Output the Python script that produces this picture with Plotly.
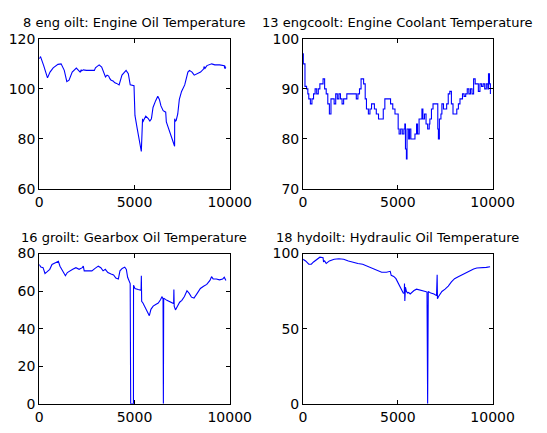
import plotly.graph_objects as go

# ---- data ----
oil_x = [0, 67, 233, 433, 566, 732, 982, 1148, 1314, 1448, 1564, 1730, 1947, 2063, 2146, 2200, 2230, 2313,
         2479, 2895, 2950, 3028, 3145, 3278, 3478, 3560, 3644, 3700, 3760, 3894, 3950, 4060, 4193, 4343,
         4559, 4676, 4776, 4975, 5025, 5141, 5275, 5358, 5424, 5440, 5474, 5591, 5724, 5807, 5890, 5973,
         6106, 6223, 6306, 6389, 6506, 6639, 6672, 6805, 6938, 7055, 7105, 7110, 7140, 7188, 7271, 7354,
         7471, 7637, 7804, 7887, 8020, 8136, 8303, 8469, 8636, 8650, 8700, 8802, 9052, 9218, 9468, 9717,
         9730, 9750, 9767, 9790]
oil_y = [112, 112.9, 109.3, 104.4, 106.7, 108.4, 109.8, 110, 107.4, 102.9, 103.5, 106.7, 108.3, 107.4, 106.7,
         107.5, 107.2, 107.6, 107.4, 107.4, 108.4, 108.9, 109.6, 108.7, 104.8, 105.5, 105.1, 104.2, 103.5,
         103.1, 102.5, 102.2, 101.6, 105.5, 107.4, 106.1, 101.6, 101.3, 89.4, 84.2, 78.4, 75, 88.1, 86.8,
         87.4, 89.1, 88.1, 87.2, 88.1, 92.6, 95.2, 97.1, 95.8, 93.2, 91.3, 90.7, 86.8, 83.6, 81, 77.8,
         77.1, 88.1, 87.0, 87.4, 90, 95.8, 99, 101.6, 106.7, 107.4, 106.7, 105.5, 106.1, 106.7, 108,
         108.9, 108.2, 109.3, 110, 109.6, 109.6, 109.3, 108.2, 109.2, 108.1, 108.7]

cool_x = [0, 17, 84, 100, 184, 251, 301, 385, 468, 552, 635, 719, 803, 886, 970, 1054, 1137, 1221, 1304, 1388,
          1472, 1555, 1639, 1722, 1806, 1890, 1973, 2057, 2140, 2224, 2308, 2391, 2475, 2726, 2809, 2893,
          2977, 3060, 3144, 3194, 3278, 3344, 3445, 3528, 3612, 3696, 3763, 3863, 3980, 4147, 4231, 4314,
          4398, 4515, 4615, 4732, 4849, 4950, 5017, 5067, 5150, 5234, 5318, 5368, 5401, 5452, 5485, 5569,
          5619, 5686, 5819, 5903, 5987, 6037, 6120, 6187, 6271, 6321, 6405, 6488, 6572, 6656, 6689, 6773,
          6856, 6990, 7074, 7107, 7140, 7191, 7274, 7324, 7408, 7492, 7575, 7659, 7742, 7826, 7910, 8027,
          8110, 8194, 8278, 8328, 8411, 8495, 8579, 8662, 8746, 8829, 8913, 8997, 9080, 9164, 9247, 9331,
          9415, 9498, 9582, 9666, 9749, 9783, 9833, 9883]
cool_y = [97, 95, 95, 90.5, 90, 89, 88, 87, 88, 89, 90, 89, 90, 91, 91, 92, 90, 89, 87, 85,
          88, 88, 87, 89, 88, 89, 88, 87, 88, 88, 89, 89, 89, 89, 88, 89,
          90, 92, 92, 91, 88, 86, 85, 86, 87, 87, 86, 85, 84, 84, 86, 88,
          88, 88, 87, 86, 85, 85, 82, 81, 82, 81, 82, 83, 78, 76, 82, 80,
          82, 80, 80, 81, 83, 81, 84, 84, 86, 84, 85, 83, 82, 83, 84, 86,
          87, 87, 87, 82, 80, 84, 85, 87, 86, 86, 87, 89, 89.5, 87, 85, 85,
          86, 87, 88, 88, 89, 88.5, 89, 90, 89, 90, 89, 92, 91, 91, 89.5, 91,
          90.5, 91, 90, 91, 90, 93, 91, 89]

gear_x = [0, 84, 201, 302, 419, 553, 670, 838, 1005, 1089, 1256, 1374, 1474, 1591, 1759, 1926, 2094, 2261,
          2312, 2362, 2513, 2764, 2931, 3099, 3233, 3350, 3467, 3601, 3769, 3903, 4020, 4154, 4238, 4355,
          4489, 4573, 4640, 4724, 4774, 4800, 4945, 4950, 5025, 5193, 5327, 5345, 5360, 5377, 5444, 5528,
          5611, 5695, 5779, 5863, 5980, 6114, 6248, 6365, 6449, 6499, 6516, 6533, 6700, 6868, 7035, 7055,
          7068, 7085, 7152, 7253, 7370, 7487, 7621, 7755, 7873, 7990, 8124, 8291, 8459, 8626, 8794, 8961,
          9045, 9129, 9296, 9464, 9631, 9715, 9799]
gear_y = [74.2, 72.8, 72.5, 69.4, 70.4, 71.6, 74.2, 75.1, 75.9, 73.3, 70.4, 68.2, 69.9, 70.8, 71.6, 72.5, 71.6,
          72.5, 73.3, 70.8, 70.8, 70.8, 72.1, 73.3, 72.5, 70.8, 71.6, 69.9, 69.1, 68.6, 67, 66.5, 70.8, 72.1,
          72.8, 71.6, 67.4, 65.7, 64, 0, 0, 63.1, 61.4, 60.9, 60.5, 60.5, 68.2, 54.6, 53.7, 52,
          49.5, 48.6, 46.9, 50.3, 52, 52.9, 53.7, 55.4, 57.1, 55.8, 0, 56.3, 55.1, 54.1, 53.4, 53.4,
          60.9, 52, 50, 52, 54.1, 55.1, 57.1, 60.2, 58.8, 56.8, 56.3, 58.8, 61.4, 62.6, 63.6, 65.7,
          67.7, 66.5, 66.5, 66, 66.5, 67.4, 65.7]

hyd_x = [0, 134, 301, 435, 552, 719, 886, 1054, 1080, 1137, 1221, 1388, 1639, 1890, 2140, 2391, 2642, 2893,
         3144, 3395, 3645, 3896, 4147, 4398, 4599, 4649, 4783, 4900, 4983, 5067, 5184, 5284, 5340, 5351,
         5368, 5401, 5452, 5518, 5569, 5652, 5736, 5853, 5987, 6154, 6321, 6455, 6538, 6572, 6605, 6739,
         6906, 7040, 7074, 7090, 7157, 7324, 7492, 7659, 7826, 7993, 8161, 8328, 8495, 8662, 8829, 8997,
         9164, 9331, 9498, 9666, 9866]
hyd_y = [96.2, 95.1, 92.9, 92.9, 94.4, 96.2, 97.6, 97.2, 94.5, 95.1, 93.4, 95.1, 96.2, 96.6, 96.2, 95.1, 94, 93.4,
         92.9, 91.5, 90.2, 88.7, 87.6, 87.6, 88.2, 85.5, 84.8, 83.3, 81.2, 79.1, 76.3, 73.7, 73.5, 80.1,
         68.4, 77.6, 74.8, 73.7, 74.1, 73.1, 74.1, 75.4, 76.3, 75.9, 75.4, 74.8, 74.4, 0, 74.8, 73.7,
         73.1, 72, 85.9, 69.9, 71.6, 74.8, 76.3, 78.4, 81.2, 83.3, 84.4, 85.5, 86.5, 87.6, 88.7, 89.7,
         90.4, 90.4, 90.8, 90.8, 91.2]

titles = ["8 eng oilt: Engine Oil Temperature",
          "13 engcoolt: Engine Coolant Temperature",
          "16 groilt: Gearbox Oil Temperature",
          "18 hydoilt: Hydraulic Oil Temperature"]
y_ranges = [[60, 120], [70, 100], [0, 80], [0, 100]]
y_ticks = [[60, 80, 100, 120], [70, 80, 90, 100], [0, 20, 40, 60, 80], [0, 50, 100]]
x_ticks = [0, 5000, 10000]

W, H = 547, 433
boxes = [(37, 237, 32, 188), (314, 513, 32, 188), (37, 237, 255, 411), (314, 513, 255, 411)]
series = [(oil_x, oil_y), (cool_x, cool_y), (gear_x, gear_y), (hyd_x, hyd_y)]

fig = go.Figure()
font = dict(family="DejaVu Sans, Liberation Sans, Arial, sans-serif", color="black")
annotations = []
for i, ((x0, x1, y0, y1), (xs, ys)) in enumerate(zip(boxes, series)):
    k = "" if i == 0 else str(i + 1)
    fig.add_trace(go.Scatter(x=xs, y=ys, mode="lines",
                             line=dict(color="#0000ff", width=1.1,
                                       shape="hv" if i == 1 else "linear"),
                             xaxis="x" + k, yaxis="y" + k, showlegend=False,
                             hoverinfo="skip"))
    common = dict(showline=True, linecolor="black", linewidth=1, mirror="ticks",
                  ticks="inside", ticklen=4, tickcolor="black", showgrid=False,
                  zeroline=False, tickfont=dict(size=14, **font))
    fig.layout["xaxis" + k] = dict(domain=[x0 / W, x1 / W], range=[0, 10000],
                                   tickvals=x_ticks, ticktext=[str(v) for v in x_ticks],
                                   anchor="y" + k, **common)
    fig.layout["yaxis" + k] = dict(domain=[1 - y1 / H, 1 - y0 / H], range=y_ranges[i],
                                   tickvals=y_ticks[i], ticktext=[str(v) for v in y_ticks[i]],
                                   anchor="x" + k, **common)
    annotations.append(dict(text=titles[i], x=(x0 + x1) / 2 / W, y=1 - (y0 - 17) / H,
                            xref="paper", yref="paper", xanchor="center", yanchor="middle",
                            showarrow=False, font=dict(size=13, **font)))

fig.update_layout(width=W, height=H, margin=dict(l=0, r=0, t=0, b=0),
                  paper_bgcolor="white", plot_bgcolor="white",
                  annotations=annotations)
fig.write_html("out.html")
